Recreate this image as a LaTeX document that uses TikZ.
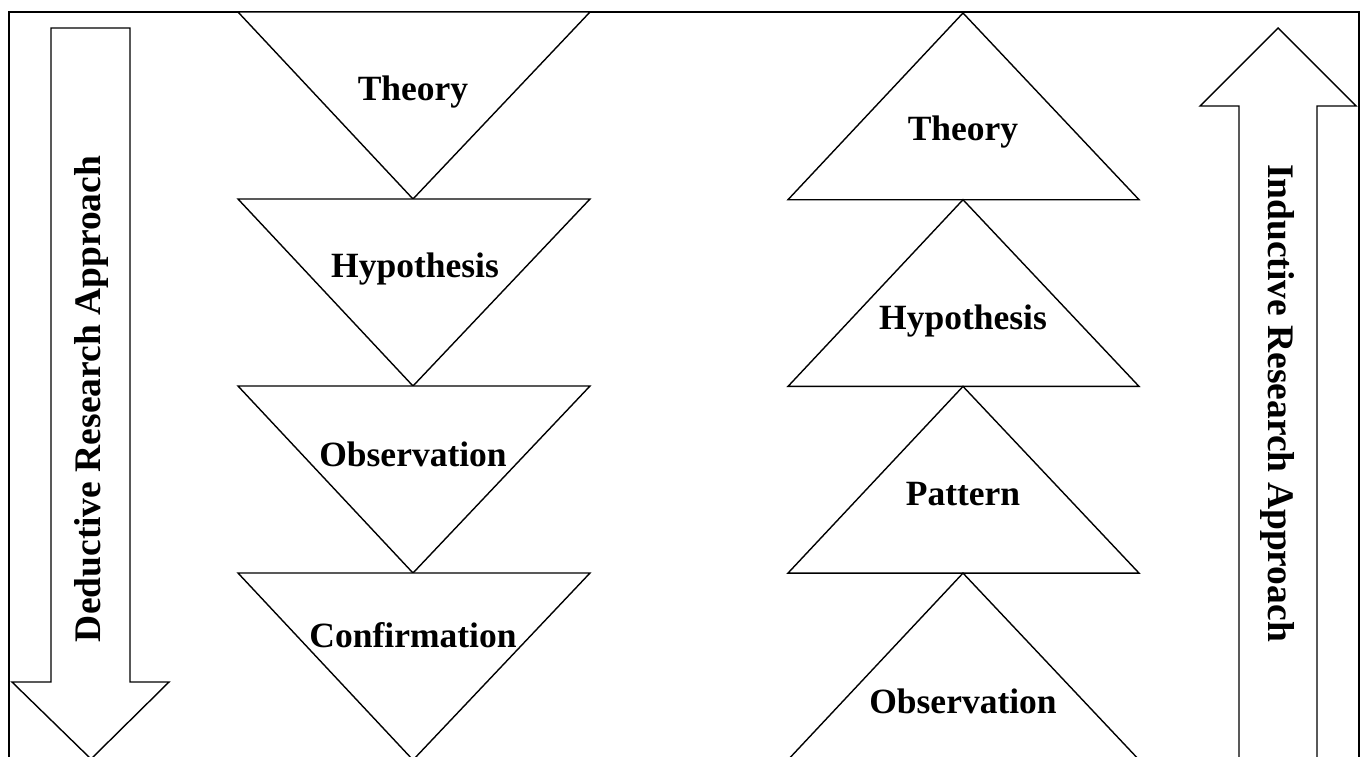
\documentclass[tikz,border=0pt]{standalone}
\usepackage{fontspec}
\setmainfont{Liberation Serif}
\begin{document}
\begin{tikzpicture}[x=1pt,y=-1pt,
  outl/.style={draw=black,line width=1.4pt,line join=miter,fill=white},
  framebox/.style={draw=black,line width=2.4pt},
  lbl/.style={font=\fontsize{35.5}{38}\selectfont\bfseries,inner sep=0pt},
  sidelbl/.style={font=\fontsize{37.5}{40}\selectfont\bfseries,inner sep=0pt}]
\useasboundingbox (0,0) rectangle (1365,756);
% frame
\draw[framebox] (9,790) -- (9,12) -- (1359,12) -- (1359,790);
% deductive arrow (down)
\draw[outl] (51,28) -- (130,28) -- (130,682) -- (169,682) -- (91,759) -- (12,682) -- (51,682) -- cycle;
\node[sidelbl,rotate=90] (ded) at (91,399) {Deductive Research Approach};
% inductive arrow (up)
\draw[outl] (1239,790) -- (1239,106) -- (1200,106) -- (1278,28) -- (1356,106) -- (1317,106) -- (1317,790);
\node[sidelbl,rotate=-90] (ind) at (1278,403) {Inductive Research Approach};
% left inverted triangles
\foreach \i in {0,1,2,3}{
  \draw[outl] (238,12+187*\i) -- (590,12+187*\i) -- (413,199+187*\i) -- cycle;
}
\node[lbl] (lt) at (413,92) {Theory};
\node[lbl] (lh) at (415,269) {Hypothesis};
\node[lbl] (lo) at (413,454) {Observation};
\node[lbl] (lc) at (413,635) {Confirmation};
% right upright triangles
\foreach \i in {0,1,2,3}{
  \draw[outl] (963,13+186.7*\i) -- (1139,199.7+186.7*\i) -- (788,199.7+186.7*\i) -- cycle;
}
\node[lbl] (rt) at (963,132) {Theory};
\node[lbl] (rh) at (963,321) {Hypothesis};
\node[lbl] (rp) at (963,494) {Pattern};
\node[lbl] (ro) at (963,701) {Observation};
\end{tikzpicture}
\end{document}
